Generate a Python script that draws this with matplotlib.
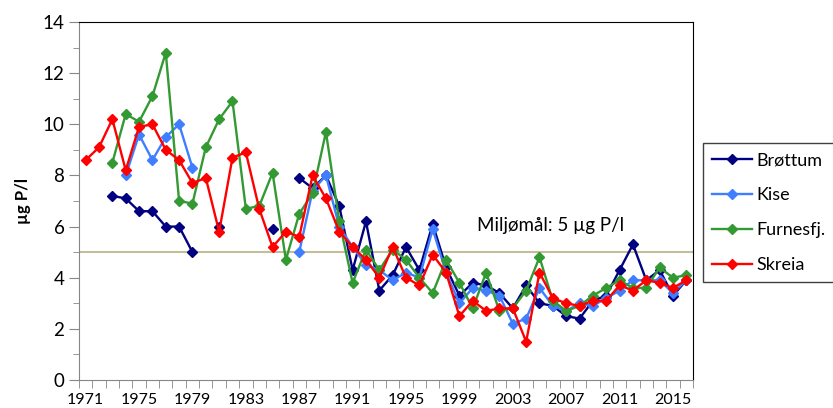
import numpy as np
import matplotlib
matplotlib.use("Agg")
import matplotlib.pyplot as plt
from matplotlib.ticker import FixedLocator, MultipleLocator

nan = np.nan
years = np.arange(1971, 2017)

# total fosfor, µg P/l
brottum = [nan, nan, 7.2, 7.1, 6.6, 6.6, 6.0, 6.0, 5.0, nan,
           6.0, nan, nan, nan, 5.9, nan, 7.9, 7.5, 8.0, 6.8,
           4.3, 6.2, 3.5, 4.1, 5.2, 4.3, 6.1, 4.4, 3.3, 3.8,
           3.7, 3.4, 2.8, 3.7, 3.0, 2.9, 2.5, 2.4, 3.1, 3.3,
           4.3, 5.3, 3.9, 4.3, 3.3, 3.9]
kise = [nan, nan, nan, 8.0, 9.6, 8.6, 9.5, 10.0, 8.3, nan,
        nan, nan, nan, nan, nan, nan, 5.0, 7.4, 8.0, 6.0,
        5.2, 4.5, 4.3, 3.9, 4.2, 4.0, 5.9, 4.2, 3.0, 3.6,
        3.5, 3.3, 2.2, 2.4, 3.6, 2.9, 2.7, 3.0, 2.9, 3.2,
        3.5, 3.9, 3.9, 3.9, 3.4, 3.9]
furnesfj = [nan, nan, 8.5, 10.4, 10.1, 11.1, 12.8, 7.0, 6.9, 9.1,
            10.2, 10.9, 6.7, 6.8, 8.1, 4.7, 6.5, 7.3, 9.7, 6.2,
            3.8, 5.1, 4.3, 5.1, 4.7, 4.0, 3.4, 4.7, 3.8, 2.8,
            4.2, 2.7, 2.8, 3.5, 4.8, 3.1, 2.7, 2.9, 3.3, 3.6,
            3.9, 3.6, 3.6, 4.4, 4.0, 4.1]
skreia = [8.6, 9.1, 10.2, 8.2, 9.9, 10.0, 9.0, 8.6, 7.7, 7.9,
          5.8, 8.7, 8.9, 6.7, 5.2, 5.8, 5.6, 8.0, 7.1, 5.8,
          5.2, 4.7, 4.0, 5.2, 4.0, 3.7, 4.9, 4.2, 2.5, 3.1,
          2.7, 2.8, 2.8, 1.5, 4.2, 3.2, 3.0, 2.9, 3.1, 3.1,
          3.7, 3.5, 3.9, 3.8, 3.6, 3.9]
miljomal = 5.0

plt.rcParams['font.family'] = ['Lato', 'DejaVu Sans']

fig = plt.figure(figsize=(8.33, 4.08), dpi=100)
ax = fig.add_axes([79/833, 1 - 380/408, (693 - 79)/833, (380 - 22)/408])

ax.axhline(miljomal, color="#C4BD97", lw=1.5, zorder=1)

series = [("Brøttum", brottum, "#000080"),
          ("Kise", kise, "#3F7FFF"),
          ("Furnesfj.", furnesfj, "#339933"),
          ("Skreia", skreia, "#FF0000")]
for name, vals, col in series:
    ax.plot(years, vals, "-D", color=col, lw=1.7, markersize=5.5, label=name, zorder=3)

ax.text(2000.3, 6.05, "Miljømål: 5 µg P/l", fontsize=13.5, ha="left", va="center")

ax.set_xlim(1970.5, 2016.5)
ax.set_ylim(0, 14)
ax.xaxis.set_major_locator(FixedLocator(list(range(1971, 2017, 4))))
ax.xaxis.set_minor_locator(FixedLocator(list(np.arange(1970.5, 2017, 1.0))))
ax.yaxis.set_major_locator(MultipleLocator(2))
ax.yaxis.set_minor_locator(MultipleLocator(1))
ax.tick_params(axis="x", which="major", length=0, labelsize=11.5, pad=9)
ax.tick_params(axis="x", which="minor", length=6, color="#868686", direction="out")
ax.tick_params(axis="y", which="major", length=7, color="#868686", labelsize=13.5)
ax.tick_params(axis="y", which="minor", length=4, color="#868686")

for s in ["left", "bottom"]:
    ax.spines[s].set_color("#868686")
for s in ["top", "right"]:
    ax.spines[s].set_color("black")

ax.set_ylabel("µg P/l", fontsize=12, fontweight="bold", labelpad=8)

fig.legend(loc="upper left", bbox_to_anchor=(703/833, 1 - 143/408), fontsize=13,
           frameon=True, fancybox=False, edgecolor="#404040", framealpha=1,
           handlelength=2.2, labelspacing=1.05, borderpad=0.5, handletextpad=0.25,
           borderaxespad=0)

fig.savefig("out.png", dpi=100)
